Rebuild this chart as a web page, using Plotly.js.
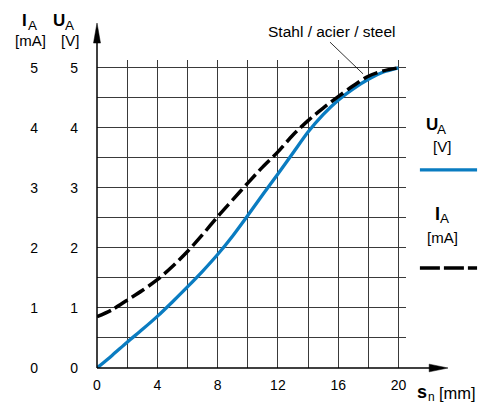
<!DOCTYPE html>
<html>
<head>
<meta charset="utf-8">
<script src="https://cdn.plot.ly/plotly-3.0.1.min.js"></script>
<style>html,body{margin:0;padding:0;background:#fff;}#chart{width:487px;height:403px;}</style>
</head>
<body>
<div id="chart"></div>
<script>
// Distance s_n [mm]
const sn = [0,1,2,3,4,5,6,7,8,9,10,11,12,13,14,15,16,17,18,19,20];
// Output voltage U_A [V]
const uA = [0,0.21,0.43,0.64,0.86,1.1,1.35,1.61,1.89,2.2,2.54,2.89,3.23,3.58,3.93,4.22,4.46,4.65,4.81,4.93,5.0];
// Output current I_A [mA]
const iA = [0.855,0.97,1.13,1.29,1.47,1.69,1.94,2.22,2.52,2.8,3.08,3.35,3.6,3.88,4.12,4.33,4.52,4.7,4.86,4.95,5.0];
const xTicks = [0,4,8,12,16,20];
const yTicks = [0,1,2,3,4,5];
const curveLabel = 'Stahl / acier / steel';

const FONT = '"Liberation Sans", Arial, Helvetica, sans-serif';
const BLUE = '#0a7cc1';
const GRID = '#3a3a3a';

const traces = [
  {x: sn, y: uA, type: 'scatter', mode: 'lines', xaxis: 'x', yaxis: 'y',
   line: {color: BLUE, width: 3.3, shape: 'spline', smoothing: 0.8}, hoverinfo: 'skip'},
  {x: sn, y: iA, type: 'scatter', mode: 'lines', xaxis: 'x', yaxis: 'y2',
   line: {color: '#000', width: 3.5, dash: '15px,5px', shape: 'spline', smoothing: 0.8}, hoverinfo: 'skip'}
];

function txt(x, y, text, size, anchor, bold) {
  return {xref: 'paper', yref: 'paper', x: x, y: y,
          text: bold ? '<b>' + text + '</b>' : text, showarrow: false,
          font: {family: FONT, size: size, color: '#000'},
          xanchor: anchor, yanchor: 'middle', borderpad: 0};
}

const yr = [0, 5.13];
const tf = {family: FONT, size: 14, color: '#000'};
const layout = {
  width: 487, height: 403,
  margin: {l: 97, r: 81, t: 60, b: 35, pad: 0},
  paper_bgcolor: '#fff', plot_bgcolor: '#fff',
  showlegend: false,
  font: {family: FONT, size: 14, color: '#000'},
  xaxis: {range: [0, 20.5], tickvals: xTicks, ticktext: xTicks.map(String),
          showgrid: true, gridcolor: GRID, gridwidth: 1,
          minor: {dtick: 2, tick0: 0, showgrid: true, gridcolor: GRID, gridwidth: 1},
          ticks: '', showline: false, zeroline: false, ticklabelstandoff: 7,
          tickfont: tf, fixedrange: true},
  yaxis: {range: yr, tickvals: yTicks, ticktext: yTicks.map(String),
          showgrid: true, gridcolor: GRID, gridwidth: 1,
          minor: {dtick: 0.5, tick0: 0, showgrid: true, gridcolor: GRID, gridwidth: 1},
          ticks: '', showline: false, zeroline: false, ticklabelstandoff: 18,
          tickfont: tf, fixedrange: true},
  yaxis2: {range: yr, overlaying: 'y', side: 'left', anchor: 'x',
           tickvals: yTicks, ticktext: yTicks.map(String),
           showgrid: false, zeroline: false, showline: false, ticks: '',
           ticklabelstandoff: 58,
           tickfont: tf, fixedrange: true},
  annotations: [
    // left axis titles
    txt(-0.246, 1.127, 'I', 17, 'left', true),
    txt(-0.2265, 1.113, 'A', 13.5, 'left', false),
    txt(-0.2168, 1.063, '[mA]', 15, 'center', false),
    txt(-0.1456, 1.127, 'U', 17, 'left', true),
    txt(-0.1052, 1.113, 'A', 13.5, 'left', false),
    txt(-0.0874, 1.063, '[V]', 15, 'center', false),
    // legend
    txt(1.0631, 0.792, 'U', 17, 'left', true),
    txt(1.0971, 0.775, 'A', 13.5, 'left', false),
    txt(1.118, 0.719, '[V]', 15, 'center', false),
    txt(1.0890, 0.500, 'I', 18, 'left', true),
    txt(1.1068, 0.485, 'A', 13.5, 'left', false),
    txt(1.1197, 0.4235, '[mA]', 15, 'center', false),
    // x axis title
    txt(1.0324, -0.077, 's', 18, 'left', true),
    txt(1.0680, -0.093, 'n', 12, 'left', false),
    txt(1.104, -0.081, '[mm]', 16.5, 'left', false),
    // curve label
    txt(0.760, 1.094, curveLabel, 15.5, 'center', false)
  ],
  shapes: [
    // axis lines with arrowheads
    {type: 'line', xref: 'paper', yref: 'paper', x0: 0, y0: 0, x1: 0, y1: 1.07, line: {color: '#000', width: 1.5}},
    {type: 'path', xref: 'paper', yref: 'paper', path: 'M 0 1.120 L -0.0113 1.055 L 0.0113 1.055 Z', fillcolor: '#000', line: {color: '#000', width: 0.5}},
    {type: 'line', xref: 'paper', yref: 'paper', x0: 0, y0: 0, x1: 1.09, y1: 0, line: {color: '#000', width: 1.5}},
    {type: 'path', xref: 'paper', yref: 'paper', path: 'M 1.136 0 L 1.075 0.0125 L 1.075 -0.0125 Z', fillcolor: '#000', line: {color: '#000', width: 0.5}},
    // leader line
    {type: 'line', xref: 'paper', yref: 'paper', x0: 0.754, y0: 1.058, x1: 0.861, y1: 0.955, line: {color: '#000', width: 0.8}},
    // legend lines
    {type: 'line', xref: 'paper', yref: 'paper', x0: 1.045, y0: 0.643, x1: 1.230, y1: 0.643, line: {color: BLUE, width: 3.3}},
    {type: 'line', xref: 'paper', yref: 'paper', x0: 1.045, y0: 0.325, x1: 1.230, y1: 0.325, line: {color: '#000', width: 3.5, dash: '20px,4px'}}
  ]
};

Plotly.newPlot('chart', traces, layout, {staticPlot: true, displayModeBar: false});
</script>
</body>
</html>
